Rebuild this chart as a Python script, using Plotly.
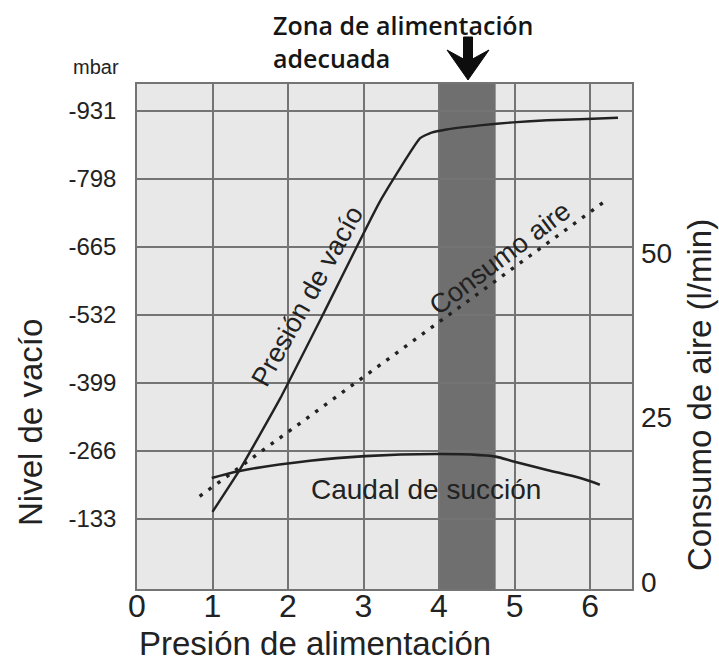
import plotly.graph_objects as go

# Supply pressure (bar) vs. vacuum level (mbar)
vac_x = [1.0, 1.36, 1.9, 2.47, 3.22, 3.75, 3.9, 4.1, 4.54, 4.98, 5.43, 5.87, 6.37]
vac_y = [-147, -229, -370, -535, -755, -878, -889, -895, -903, -909, -913, -915, -918]

# Suction flow curve (drawn on the vacuum axis)
suc_x = [0.99, 1.36, 2.29, 3.02, 3.97, 4.54, 4.75, 5.0, 5.43, 5.87, 6.13]
suc_y = [-213, -227, -247, -256, -260, -258, -255, -245, -229, -213, -200]

# Air consumption (l/min)
air_x = [0.83, 6.17]
air_y = [13.0, 57.6]

vac_ticks = [-133, -266, -399, -532, -665, -798, -931]
vac_labels = ["-133", "-266", "-399", "-532", "-665", "-798", "-931"]
air_ticks = [0, 25, 50]
x_ticks = [0, 1, 2, 3, 4, 5, 6]

# Recommended supply zone
zone_x = [4.0, 4.75]

W, H = 719, 667
L, R, T, B = 137, 87, 84, 78
PW, PH = W - L - R, H - T - B

def px(x):
    return (x - L) / PW

def py(y):
    return (H - B - y) / PH

INK = "#222222"
GRID = "#747474"
FONT = "Liberation Sans, Arial, sans-serif"

fig = go.Figure()

fig.add_trace(go.Scatter(x=vac_x, y=vac_y, mode="lines", line_shape="spline",
                         line=dict(color=INK, width=2.4, smoothing=0.4), hoverinfo="skip"))
fig.add_trace(go.Scatter(x=suc_x, y=suc_y, mode="lines", line_shape="spline",
                         line=dict(color=INK, width=2.6), hoverinfo="skip"))
fig.add_trace(go.Scatter(x=air_x, y=air_y, mode="lines", yaxis="y2",
                         line=dict(color=INK, width=3.4, dash="3.5px,7.5px"), hoverinfo="skip"))

# shaded zone behind the grid
fig.add_shape(type="rect", xref="x", yref="paper", x0=zone_x[0], x1=zone_x[1],
              y0=0, y1=1, fillcolor="#6f6f6f", line_width=0, layer="below")

# downward arrow above the zone
ax = [463.5, 472.5, 472.5, 489, 468, 447, 463.5]
ay = [37, 37, 59, 50, 80, 50, 59]
path = "M" + " L".join(f"{px(a):.5f},{py(b):.5f}" for a, b in zip(ax, ay)) + " Z"
fig.add_shape(type="path", xref="paper", yref="paper", path=path,
              fillcolor="#0d0d0d", line=dict(color="#0d0d0d", width=1))

def note(x, y, text, size, angle=0, xanchor="center", family=FONT):
    return dict(xref="paper", yref="paper", x=px(x), y=py(y), xanchor=xanchor,
                yanchor="middle", showarrow=False, textangle=angle, text=text,
                font=dict(family=family, size=size, color=INK))

ann = [
    dict(xref="paper", yref="paper", x=px(271), y=py(6), xanchor="left", yanchor="top",
         align="left", showarrow=False, text="Zona de alimentación<br>adecuada",
         font=dict(family="Open Sans, sans-serif", size=25, color="#151515", weight=600)),
    note(96, 67, "mbar", 20),
    note(31, 423, "Nivel de vacío", 33, angle=-90),
    note(699, 395, "Consumo de aire (l/min)", 33, angle=-90),
    note(137, 643, "Presión de alimentación", 33, xanchor="left"),
]
for x, y, text, size, angle in [(2.26, -569, "Presión de vacío", 27, -61),
                                (4.81, -643, "Consumo aire", 27, -37),
                                (3.83, -190, "Caudal de succión", 28, 0)]:
    ann.append(dict(xref="x", yref="y", x=x, y=y, xanchor="center", yanchor="middle",
                    showarrow=False, textangle=angle, text=text,
                    font=dict(family=FONT, size=size, color=INK)))

fig.update_layout(
    width=W, height=H,
    margin=dict(l=L, r=R, t=T, b=B),
    paper_bgcolor="white", plot_bgcolor="#e8e8e8",
    showlegend=False,
    annotations=ann,
    xaxis=dict(range=[0, 6.556], tickvals=x_ticks, showgrid=True, gridcolor=GRID, gridwidth=1.5,
               zeroline=False, showline=True, linecolor=GRID, linewidth=1.5, mirror=True,
               ticks="", tickfont=dict(family=FONT, size=32, color=INK), ticklabelstandoff=-12),
    yaxis=dict(range=[4, -984], tickvals=vac_ticks, ticktext=vac_labels, showgrid=True,
               gridcolor=GRID, gridwidth=1.5,
               zeroline=False, showline=True, linecolor=GRID, linewidth=1.5, mirror=True,
               ticks="", tickfont=dict(family=FONT, size=24, color=INK), ticklabelstandoff=14),
    yaxis2=dict(overlaying="y", side="right", range=[-1.09, 75.65], tickvals=air_ticks,
                showgrid=False, zeroline=False, showline=False, ticks="",
                tickfont=dict(family=FONT, size=28, color=INK), ticklabelstandoff=8),
)

fig.write_html("out.html")
